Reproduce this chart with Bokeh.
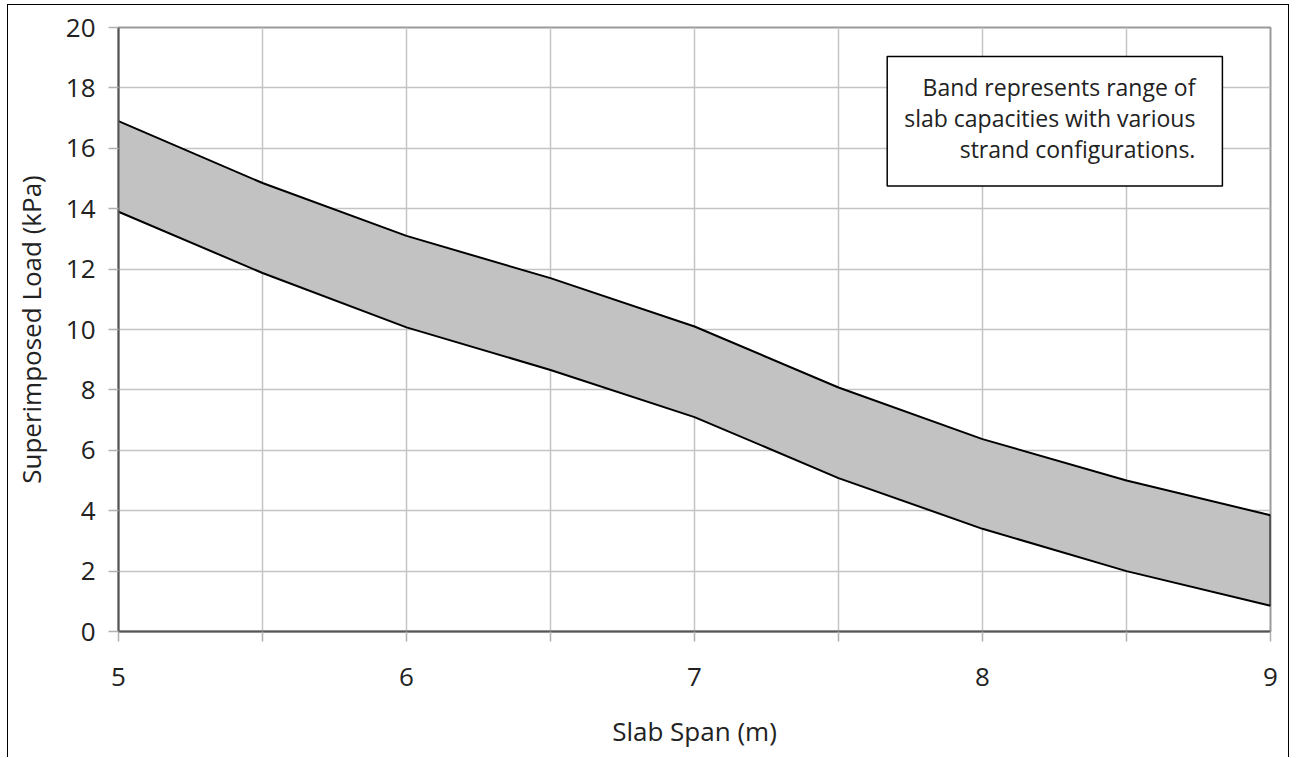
from bokeh.plotting import figure
from bokeh.models import Range1d, FixedTicker, Label
from bokeh.embed import file_html
from bokeh.resources import INLINE

# ---- data ----
span = [5.0, 5.5, 6.0, 6.5, 7.0, 7.5, 8.0, 8.5, 9.0]
upper = [16.9, 14.85, 13.1, 11.7, 10.1, 8.08, 6.37, 5.0, 3.85]
lower = [13.9, 11.87, 10.07, 8.66, 7.1, 5.08, 3.4, 2.0, 0.85]
x_major = [5, 6, 7, 8, 9]
x_minor = [5.5, 6.5, 7.5, 8.5]
y_ticks = [0, 2, 4, 6, 8, 10, 12, 14, 16, 18, 20]
note = "Band represents range of\nslab capacities with various\nstrand configurations."

FONT = "Open Sans"
TXT = "#222222"

p = figure(width=1282, height=753, output_backend="svg", toolbar_location=None,
           x_range=Range1d(5, 9), y_range=Range1d(0, 20),
           min_border_left=110, min_border_right=20, min_border_top=22, min_border_bottom=127)
p.styles = {"border": "1px solid black", "border-bottom": "none", "margin": "4px 0px 0px 7px"}
p.background_fill_color = "white"
p.border_fill_color = "white"
p.outline_line_color = "#9a9a9a"
p.outline_line_width = 2

# grid
p.xgrid.ticker = FixedTicker(ticks=x_major, minor_ticks=x_minor)
p.ygrid.ticker = FixedTicker(ticks=y_ticks)
for g in (p.xgrid, p.ygrid):
    g.grid_line_color = "#c4c4c4"
    g.grid_line_width = 1.5
p.xgrid.minor_grid_line_color = "#c4c4c4"
p.xgrid.minor_grid_line_width = 1.5

# band
p.varea(x=span, y1=lower, y2=upper, fill_color="#c2c2c2")
p.line(span, upper, line_color="black", line_width=2)
p.line(span, lower, line_color="black", line_width=2)
p.segment(x0=[span[-1]], y0=[lower[-1]], x1=[span[-1]], y1=[upper[-1]],
          line_color="black", line_width=2)

# axes
p.xaxis.ticker = FixedTicker(ticks=x_major, minor_ticks=x_minor)
p.yaxis.ticker = FixedTicker(ticks=y_ticks)
for ax in (p.xaxis[0], p.yaxis[0]):
    ax.axis_line_color = "#555555"
    ax.axis_line_width = 2
    ax.major_tick_line_color = "#b0b0b0"
    ax.major_tick_line_width = 1.5
    ax.major_tick_out = 10
    ax.major_tick_in = 0
    ax.major_label_text_font = FONT
    ax.major_label_text_font_size = "26px"
    ax.major_label_text_color = TXT
    ax.axis_label_text_font = FONT
    ax.axis_label_text_font_size = "26px"
    ax.axis_label_text_font_style = "normal"
    ax.axis_label_text_color = TXT
p.xaxis.minor_tick_line_color = "#b0b0b0"
p.xaxis.minor_tick_line_width = 1.5
p.xaxis.minor_tick_out = 10
p.xaxis.minor_tick_in = 0
p.yaxis.minor_tick_line_color = None
p.xaxis.major_label_standoff = 26
p.yaxis.major_label_standoff = 13
p.xaxis.axis_label = "Slab Span (m)"
p.yaxis.axis_label = "Superimposed Load (kPa)"
p.xaxis.axis_label_standoff = 24
p.yaxis.axis_label_standoff = 14

# note box
lab = Label(x=8.833, y=19.04, text=note, anchor="top_right", text_align="right",
            text_font=FONT, text_font_size="23px", text_color=TXT, text_line_height=0.96,
            padding=dict(left=17, right=27, top=15, bottom=21),
            background_fill_color="white", border_line_color="black", border_line_width=1.5)
p.add_layout(lab)

open("out.html", "w").write(file_html(p, INLINE))
